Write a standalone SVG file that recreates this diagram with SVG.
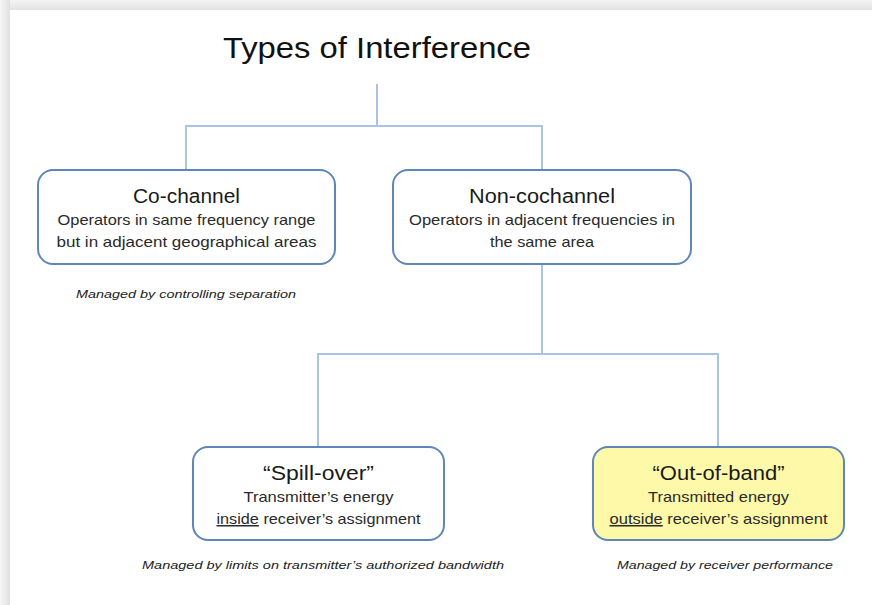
<svg xmlns="http://www.w3.org/2000/svg" width="872" height="605" viewBox="0 0 872 605">
<defs>
<linearGradient id="gTop" x1="0" y1="0" x2="0" y2="1"><stop offset="0" stop-color="#f4f4f4"/><stop offset="1" stop-color="#e2e2e2"/></linearGradient>
<linearGradient id="gLeft" x1="0" y1="0" x2="1" y2="0"><stop offset="0" stop-color="#f7f7f7"/><stop offset="1" stop-color="#e0e0e0"/></linearGradient>
</defs>
<style>
.box{fill:#ffffff;stroke:#5f86b8;stroke-width:2}
.hl{fill:#fdf9a9}
.con{fill:none;stroke:#a9c3e3;stroke-width:2}
.ttl{font-family:"Liberation Sans",Arial,sans-serif;font-size:20px;fill:#1a1a1a;text-anchor:middle}
.txt{font-family:"Liberation Sans",Arial,sans-serif;font-size:15px;fill:#2a2a2a;text-anchor:middle}
.note{font-family:"Liberation Sans",Arial,sans-serif;font-size:11.5px;font-style:italic;fill:#222;text-anchor:middle}
</style>
<rect width="872" height="605" fill="#ffffff"/>
<rect x="0" y="0" width="872" height="10" fill="url(#gTop)"/>
<rect x="0" y="0" width="10" height="605" fill="url(#gLeft)"/>
<text x="377" y="58" font-family="Liberation Sans,Arial,sans-serif" font-size="29" fill="#111" text-anchor="middle" textLength="308" lengthAdjust="spacingAndGlyphs">Types of Interference</text>
<g id="connectors">
<path class="con" d="M377 84 V126 M186 170 V126 H542 V170"/>
<path class="con" d="M542 264 V354 M318 447 V354 H718 V447"/>
</g>
<g id="cochannel">
<rect class="box" x="38" y="170" width="297" height="94" rx="15"/>
<text class="ttl" x="186.5" y="203" textLength="107" lengthAdjust="spacingAndGlyphs">Co-channel</text>
<text class="txt" x="186.5" y="225" textLength="258" lengthAdjust="spacingAndGlyphs">Operators in same frequency range</text>
<text class="txt" x="186.5" y="247" textLength="260" lengthAdjust="spacingAndGlyphs">but in adjacent geographical areas</text>
</g>
<text class="note" x="186" y="298" textLength="220" lengthAdjust="spacingAndGlyphs">Managed by controlling separation</text>
<g id="noncochannel">
<rect class="box" x="393" y="170" width="298" height="94" rx="15"/>
<text class="ttl" x="542" y="203" textLength="146" lengthAdjust="spacingAndGlyphs">Non-cochannel</text>
<text class="txt" x="542" y="225" textLength="266" lengthAdjust="spacingAndGlyphs">Operators in adjacent frequencies in</text>
<text class="txt" x="542" y="247" textLength="104" lengthAdjust="spacingAndGlyphs">the same area</text>
</g>
<g id="spillover">
<rect class="box" x="193" y="447" width="251" height="93" rx="15"/>
<text class="ttl" x="318.5" y="480" textLength="111" lengthAdjust="spacingAndGlyphs">“Spill-over”</text>
<text class="txt" x="318.5" y="502" textLength="150" lengthAdjust="spacingAndGlyphs">Transmitter’s energy</text>
<text class="txt" x="318.5" y="524" textLength="204" lengthAdjust="spacingAndGlyphs"><tspan text-decoration="underline">inside</tspan> receiver’s assignment</text>
</g>
<text class="note" x="323" y="569" textLength="362" lengthAdjust="spacingAndGlyphs">Managed by limits on transmitter’s authorized bandwidth</text>
<g id="outofband">
<rect class="box hl" x="593" y="447" width="251" height="93" rx="15"/>
<text class="ttl" x="718.5" y="480" textLength="132" lengthAdjust="spacingAndGlyphs">“Out-of-band”</text>
<text class="txt" x="718.5" y="502" textLength="141" lengthAdjust="spacingAndGlyphs">Transmitted energy</text>
<text class="txt" x="718.5" y="524" textLength="218" lengthAdjust="spacingAndGlyphs"><tspan text-decoration="underline">outside</tspan> receiver’s assignment</text>
</g>
<text class="note" x="725" y="569" textLength="216" lengthAdjust="spacingAndGlyphs">Managed by receiver performance</text>
</svg>
